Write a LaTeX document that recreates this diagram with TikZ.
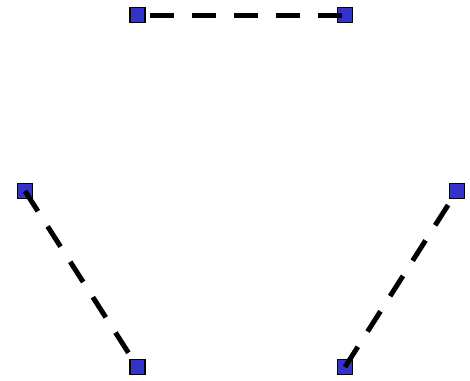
\documentclass[tikz,border=0pt]{standalone}
\definecolor{sqblue}{RGB}{51,51,204}
\pgfdeclarelayer{back}
\pgfdeclarelayer{front}
\pgfsetlayers{back,main,front}
\begin{document}
\begin{tikzpicture}[x=1pt,y=-1pt,
  sq/.style={rectangle, draw=black, fill=sqblue, line width=1.2pt, minimum size=15pt, inner sep=0pt},
  dashline/.style={line width=5pt, dash pattern=on 24pt off 18pt}]
\useasboundingbox (0,0) rectangle (470,380);
\begin{pgfonlayer}{back}
  \node[sq] (tr) at (345,15) {};
  \node[sq] (ml) at (25,191) {};
  \node[sq] (br) at (345,367) {};
\end{pgfonlayer}
\begin{pgfonlayer}{front}
  \node[sq] (tl) at (137.5,15) {};
  \node[sq] (bl) at (137.5,367) {};
  \node[sq] (mr) at (457,191) {};
\end{pgfonlayer}
\draw[dashline, dash phase=29.5pt] (tl.center) -- (tr.center);
\draw[dashline] (ml.center) -- (bl.center);
\draw[dashline] (br.center) -- (mr.center);
\end{tikzpicture}
\end{document}
